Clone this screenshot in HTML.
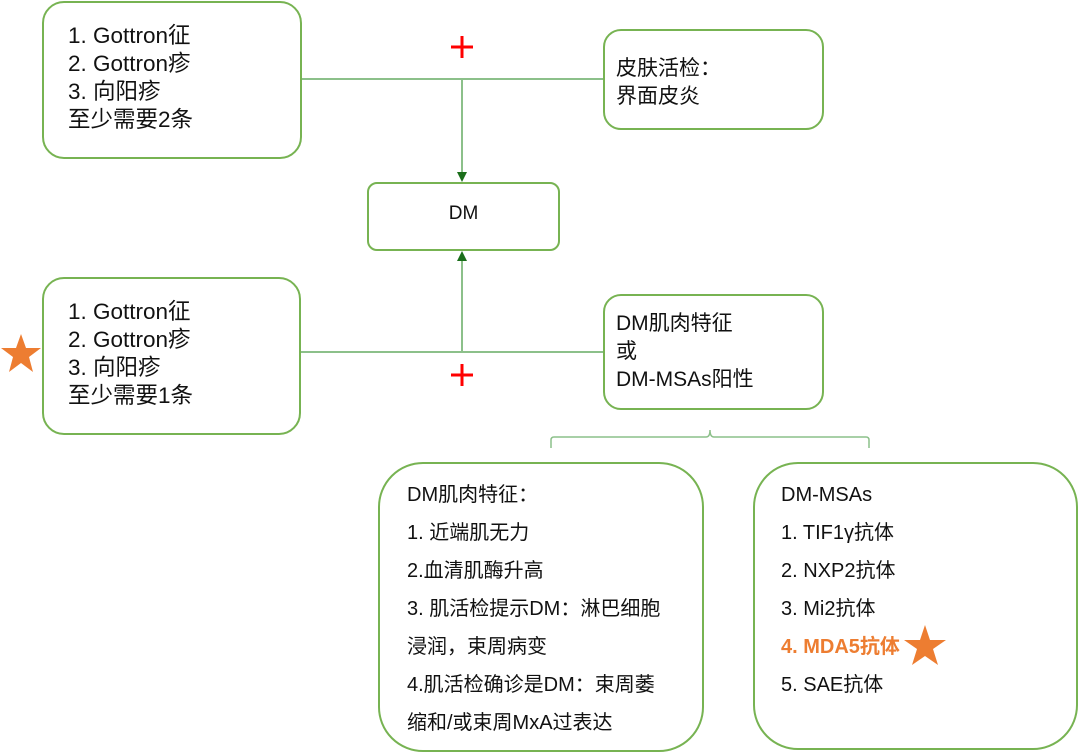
<!DOCTYPE html>
<html><head><meta charset="utf-8"><style>
body{margin:0;width:1080px;height:749px;background:#fff;position:relative;overflow:hidden;font-family:"Liberation Sans","Noto Sans CJK SC",sans-serif;color:#111}
.b{position:absolute;border:2px solid #77b352;box-sizing:border-box;background:#fff}
.t{position:absolute;white-space:nowrap}
.l20{font-size:21px;line-height:28px}
.l17{font-size:20px;line-height:38px}
</style></head><body>
<svg width="1080" height="749" style="position:absolute;left:0;top:0">
<g stroke="#8cc08a" stroke-width="2" fill="none">
<line x1="302" y1="79" x2="603" y2="79"/>
<line x1="462" y1="79" x2="462" y2="172"/>
<line x1="301" y1="352" x2="603" y2="352"/>
<line x1="462" y1="352" x2="462" y2="261"/>
<path d="M551 448 V440 Q551 437 554 437 H706 Q710 437 710 430 Q710 437 714 437 H866 Q869 437 869 440 V448" stroke-width="1.5"/>
</g>
<polygon points="457,172 467,172 462,182" fill="#1a6e1a"/>
<polygon points="457,261 467,261 462,251" fill="#1a6e1a"/>
<g stroke="#f00" stroke-width="3">
<line x1="451" y1="47" x2="473" y2="47"/><line x1="462" y1="36" x2="462" y2="58"/>
<line x1="451" y1="375" x2="473" y2="375"/><line x1="462" y1="364" x2="462" y2="386"/>
</g>
</svg>
<div class="b" style="left:42px;top:1px;width:260px;height:158px;border-radius:22px"></div>
<div class="t l20" style="left:68px;top:22px;font-size:22.5px">1. Gottron征<br>2. Gottron疹<br>3. 向阳疹<br>至少需要2条</div>
<div class="b" style="left:603px;top:29px;width:221px;height:101px;border-radius:18px"></div>
<div class="t l20" style="left:616px;top:55px">皮肤活检：<br>界面皮炎</div>
<div class="b" style="left:367px;top:182px;width:193px;height:69px;border-radius:10px"></div>
<div class="t" style="left:367px;width:193px;top:203px;text-align:center;font-size:19px">DM</div>
<div class="b" style="left:42px;top:277px;width:259px;height:158px;border-radius:22px"></div>
<div class="t l20" style="left:68px;top:298px;font-size:22.5px">1. Gottron征<br>2. Gottron疹<br>3. 向阳疹<br>至少需要1条</div>
<div class="b" style="left:603px;top:294px;width:221px;height:116px;border-radius:18px"></div>
<div class="t l20" style="left:616px;top:310px">DM肌肉特征<br>或<br>DM-MSAs阳性</div>
<div class="b" style="left:378px;top:462px;width:326px;height:290px;border-radius:45px"></div>
<div class="t l17" style="left:407px;top:476px">DM肌肉特征：<br>1. 近端肌无力<br>2.血清肌酶升高<br>3. 肌活检提示DM：淋巴细胞<br>浸润，束周病变<br>4.肌活检确诊是DM：束周萎<br>缩和/或束周MxA过表达</div>
<div class="b" style="left:753px;top:462px;width:325px;height:288px;border-radius:45px"></div>
<div class="t l17" style="left:781px;top:476px">DM-MSAs<br>1. TIF1γ抗体<br>2. NXP2抗体<br>3. Mi2抗体<br><b style="color:#ed7d31">4. MDA5抗体</b><br>5. SAE抗体</div>
<svg width="1080" height="749" style="position:absolute;left:0;top:0">
<polygon fill="#ed7d31" points="21,334 26,348 41,348 29,357 33,372 21,363 9,372 13,357 1,348 16,348"/>
<polygon fill="#ed7d31" points="925,625 930,640 946,640 933,649 938,665 925,656 912,665 917,649 904,640 920,640"/>
</svg>
</body></html>
